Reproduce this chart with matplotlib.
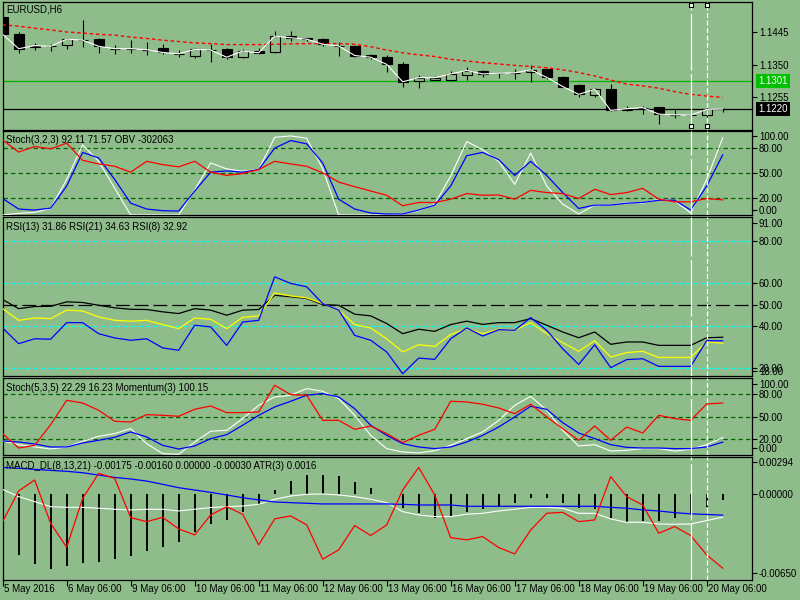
import numpy as np
import matplotlib.pyplot as plt
from matplotlib.patches import Rectangle
from matplotlib.transforms import blended_transform_factory

# EURUSD H6 candles (46 bars)
opens = [1.1489, 1.1440, 1.1402, 1.1404, 1.1407, 1.1422, 1.1425, 1.1397, 1.1397, 1.1394,
         1.1398, 1.1382, 1.1377, 1.1393, 1.1395, 1.1374, 1.1390, 1.1388, 1.1433, 1.1427,
         1.1424, 1.1405, 1.1405, 1.1378, 1.1373, 1.1351, 1.1302, 1.1306, 1.1305, 1.1321,
         1.1332, 1.1325, 1.1326, 1.1329, 1.1337, 1.1314, 1.1290, 1.1262, 1.1278, 1.1216,
         1.1224, 1.1225, 1.1203, 1.1202, 1.1203, 1.1221]
highs = [1.1493, 1.1445, 1.1415, 1.1412, 1.1429, 1.1481, 1.1429, 1.1408, 1.1423, 1.1417,
         1.1411, 1.1393, 1.1400, 1.1410, 1.1400, 1.1395, 1.1400, 1.1448, 1.1448, 1.1429,
         1.1427, 1.1416, 1.1408, 1.1381, 1.1379, 1.1359, 1.1320, 1.1317, 1.1333, 1.1342,
         1.1334, 1.1327, 1.1336, 1.1348, 1.1339, 1.1317, 1.1293, 1.1281, 1.1293, 1.1229,
         1.1229, 1.1227, 1.1218, 1.1207, 1.1227, 1.1222]
lows = [1.1437, 1.1385, 1.1393, 1.1391, 1.1397, 1.1401, 1.1385, 1.1381, 1.1383, 1.1378,
        1.1381, 1.1372, 1.1369, 1.1359, 1.1366, 1.1370, 1.1381, 1.1383, 1.1421, 1.1421,
        1.1404, 1.1377, 1.1374, 1.1368, 1.1330, 1.1284, 1.1283, 1.1305, 1.1302, 1.1305,
        1.1315, 1.1312, 1.1308, 1.1300, 1.1309, 1.1284, 1.1254, 1.1256, 1.1214, 1.1214,
        1.1204, 1.1177, 1.1193, 1.1196, 1.1198, 1.1212]
closes = [1.1439, 1.1397, 1.1406, 1.1404, 1.1425, 1.1422, 1.1404, 1.1397, 1.1397, 1.1394,
          1.1386, 1.1382, 1.1395, 1.1393, 1.1372, 1.1390, 1.1385, 1.1434, 1.1429, 1.1425,
          1.1410, 1.1405, 1.1377, 1.1372, 1.1351, 1.1300, 1.1312, 1.1312, 1.1323, 1.1333,
          1.1323, 1.1325, 1.1326, 1.1335, 1.1313, 1.1286, 1.1263, 1.1278, 1.1216, 1.1221,
          1.1224, 1.1205, 1.1203, 1.1202, 1.1219, 1.1220]
ma_slow = [1.1467, 1.1463, 1.1457, 1.1452, 1.1446, 1.1443, 1.1439, 1.1437, 1.1431, 1.1427,
           1.1422, 1.1418, 1.1414, 1.1412, 1.1409, 1.1409, 1.1409, 1.1410, 1.1411, 1.1412,
           1.1412, 1.1412, 1.1410, 1.1403, 1.1393, 1.1385, 1.1379, 1.1374, 1.1366, 1.1361,
           1.1356, 1.1352, 1.1348, 1.1345, 1.1341, 1.1335, 1.1327, 1.1317, 1.1305, 1.1293,
           1.1288, 1.1281, 1.1271, 1.1263, 1.1258, 1.1254]

# Stoch(3,2,3) + OBV
stoch1_main = [0, 2.0, 3.1, 7.8, 42.4, 83.5, 64.0, 32.0, 0, 0,
               0, 0, 30.0, 62.0, 54.9, 52.2, 54.1, 92.5, 94.1, 91.4,
               55.0, 0, 0, 0, 0, 1.2, 5.1, 12.9, 46.3, 87.5,
               77.6, 63.9, 36.5, 73.7, 34.5, 12.9, 1.2, 11.8, 11.8, 14.9,
               14.1, 18.8, 16.9, 2.4, 42.4, 92.11]
stoch1_signal = [19.6, 7.1, 5.9, 8.2, 34.5, 74.5, 67.8, 42.4, 14.1, 7.1,
                 5.1, 4.7, 28.6, 51.0, 52.5, 51.0, 54.1, 79.6, 88.6, 84.7,
                 62.0, 18.8, 7.1, 2.4, 1.2, 1.2, 5.9, 11.8, 34.5, 70.6,
                 74.5, 65.9, 47.1, 63.9, 47.1, 26.7, 7.8, 11.8, 11.8, 14.1,
                 14.9, 17.6, 17.6, 5.9, 34.5, 71.57]
obv = [89.4, 74.9, 81.6, 78.8, 85.5, 65.1, 60.8, 58.0, 51.0, 63.9,
       60.0, 57.3, 63.9, 51.0, 47.1, 49.4, 54.1, 63.9, 60.8, 58.0,
       50.2, 39.2, 33.7, 28.6, 23.5, 11.0, 14.9, 14.9, 18.8, 25.5,
       23.5, 23.9, 18.8, 29.4, 26.7, 25.5, 19.6, 30.6, 24.3, 26.7,
       31.8, 18.8, 15.7, 15.7, 19.6, 18.0]

# RSI lines
rsi21 = [52.4, 48.1, 49.1, 49.2, 51.3, 51.0, 49.7, 48.5, 47.8, 47.7,
         46.6, 45.8, 48.1, 47.4, 45.0, 47.4, 47.7, 54.4, 53.7, 52.9,
         50.0, 49.7, 45.5, 44.7, 41.1, 36.3, 38.4, 37.4, 40.6, 42.2,
         40.7, 41.5, 41.5, 43.4, 40.3, 37.1, 34.4, 37.1, 31.3, 32.4,
         32.4, 30.8, 30.8, 30.8, 34.4, 34.63]
rsi13 = [48.1, 42.6, 43.7, 43.4, 47.4, 47.0, 44.2, 42.6, 42.2, 42.6,
         40.6, 38.7, 43.7, 43.1, 38.7, 44.0, 44.7, 55.5, 54.1, 53.2,
         50.5, 47.4, 40.6, 39.0, 33.9, 27.7, 31.1, 30.3, 35.9, 38.7,
         36.3, 38.4, 37.9, 41.5, 36.3, 32.1, 28.0, 33.0, 25.3, 27.4,
         28.0, 25.1, 25.1, 25.1, 32.4, 31.86]
rsi8 = [39.0, 31.6, 33.9, 33.7, 41.5, 41.5, 36.3, 34.3, 33.2, 33.9,
        29.6, 28.5, 40.3, 39.5, 30.8, 41.8, 42.6, 63.1, 60.0, 58.4,
        50.5, 47.4, 35.5, 33.2, 27.7, 17.4, 24.8, 24.2, 33.9, 39.0,
        35.2, 38.2, 37.9, 43.9, 37.9, 29.2, 21.8, 31.1, 20.3, 24.1,
        24.5, 20.9, 20.9, 20.9, 33.0, 32.92]

# Stoch(5,3,5) + Momentum(3)
stoch2_main = [17.8, 12.9, 9.8, 7.1, 9.8, 17.3, 24.0, 27.6, 34.2, 14.2,
               0.9, 0, 16.4, 30.7, 32.0, 47.6, 65.3, 76.4, 78.7, 87.6,
               84.0, 74.2, 52.0, 25.3, 7.6, 3.1, 1.8, 4.9, 12.0, 20.9,
               29.8, 45.3, 65.3, 77.3, 58.7, 32.0, 11.1, 12.9, 4.4, 5.3,
               7.6, 7.6, 4.4, 6.7, 12.9, 22.29]
stoch2_signal = [17.8, 16.4, 13.8, 9.8, 9.8, 15.1, 18.7, 22.7, 29.8, 23.1,
                 12.0, 7.1, 11.1, 20.9, 26.2, 38.7, 52.0, 63.1, 70.7, 78.7,
                 80.9, 76.4, 60.9, 38.7, 25.3, 14.2, 9.8, 7.6, 9.8, 16.4,
                 25.3, 36.4, 49.8, 64.0, 60.0, 42.2, 28.4, 20.9, 12.9, 9.3,
                 8.4, 8.4, 7.6, 7.6, 9.8, 16.23]
momentum = [27.6, 8.4, 12.0, 39.6, 72.0, 68.4, 58.7, 44.0, 43.1, 52.9,
            52.0, 50.7, 60.0, 64.4, 55.6, 55.6, 56.4, 92.0, 79.6, 78.7,
            45.3, 45.3, 33.3, 37.8, 27.6, 15.6, 25.3, 33.3, 70.7, 69.8,
            66.7, 61.8, 54.2, 66.7, 49.8, 34.2, 18.7, 37.8, 18.7, 36.4,
            28.4, 52.0, 47.6, 45.3, 67.1, 68.4]

# MACD_DL(8,13,21) + ATR(3)
macd_main = [0.00038, -0.00018, -0.00056, -0.00095, -0.00100, -0.00100, -0.00107, -0.00115, -0.00120, -0.00115,
             -0.00115, -0.00128, -0.00115, -0.00102, -0.00095, -0.00090, -0.00077, -0.00038, -0.00013, 0.0,
             0.00003, -0.00005, -0.00018, -0.00038, -0.00064, -0.00133, -0.00159, -0.00171, -0.00171, -0.00153,
             -0.00146, -0.00128, -0.00115, -0.00100, -0.00100, -0.00107, -0.00146, -0.00146, -0.00189, -0.00215,
             -0.00215, -0.00228, -0.00230, -0.00228, -0.00202, -0.00175]
macd_signal = [0.00207, 0.00200, 0.00192, 0.00184, 0.00177, 0.00166, 0.00148, 0.00130, 0.00118, 0.00102,
               0.00077, 0.00051, 0.00033, 0.00015, -0.00005, -0.00026, -0.00043, -0.00059, -0.00064, -0.00069,
               -0.00074, -0.00074, -0.00074, -0.00074, -0.00074, -0.00077, -0.00082, -0.00082, -0.00082, -0.00092,
               -0.00092, -0.00092, -0.00092, -0.00092, -0.00092, -0.00092, -0.00092, -0.00092, -0.00100, -0.00107,
               -0.00120, -0.00128, -0.00141, -0.00150, -0.00155, -0.00160]
macd_hist = [np.nan, -0.00466, -0.00537, -0.00576, -0.00555, -0.00530, -0.00517, -0.00499, -0.00478, -0.00432,
             -0.00402, -0.00363, -0.00292, -0.00225, -0.00194, -0.00133, -0.00082, 0.00033, 0.00102, 0.00148,
             0.00148, 0.00141, 0.00097, 0.00051, 0.00002, -0.00107, -0.00146, -0.00184, -0.00171, -0.00133,
             -0.00115, -0.00095, -0.00064, -0.00031, -0.00031, -0.00064, -0.00107, -0.00113, -0.00184, -0.00210,
             -0.00202, -0.00205, -0.00184, -0.00159, -0.00095, -0.00043]
atr = [-0.00210, 0.00026, 0.00110, -0.00223, -0.00407, -0.00031, 0.00161, 0.00123, -0.00179, -0.00210,
       -0.00177, -0.00266, -0.00312, -0.00159, -0.00095, -0.00153, -0.00389, -0.00189, -0.00166, -0.00235,
       -0.00499, -0.00427, -0.00240, -0.00317, -0.00235, 0.00033, 0.00207, -0.00005, -0.00333, -0.00350,
       -0.00325, -0.00409, -0.00458, -0.00274, -0.00146, -0.00138, -0.00210, -0.00197, 0.00136, -0.00018,
       -0.00082, -0.00299, -0.00248, -0.00317, -0.00466, -0.00568]

date_labels = ['5 May 2016', '6 May 06:00', '9 May 06:00', '10 May 06:00', '11 May 06:00', '12 May 06:00',
               '13 May 06:00', '16 May 06:00', '17 May 06:00', '18 May 06:00', '19 May 06:00', '20 May 06:00']

bg = '#8fbc8b'
plt.rcParams['font.family'] = ['Liberation Sans', 'DejaVu Sans']
plt.rcParams['font.size'] = 7

x = np.arange(len(closes))
fig = plt.figure(figsize=(8, 6), dpi=100, facecolor=bg)


def add_panel(top, bottom):
    # top / bottom in pixels from the top of the picture
    ax = fig.add_axes([2.5 / 800, 1 - bottom / 600, 749.5 / 800, (bottom - top) / 600])
    ax.set_facecolor(bg)
    ax.set_xlim(-0.01, 46.83)
    for s in ax.spines.values():
        s.set_color('black')
        s.set_linewidth(0.9)
    ax.tick_params(axis='x', bottom=False, labelbottom=False)
    ax.yaxis.tick_right()
    ax.tick_params(axis='y', direction='out', length=3.5, width=0.8, pad=1.5, labelsize=7, colors='black')
    return ax


def title(ax, s, dy):
    ax.annotate(s, xy=(0, 1), xycoords='axes fraction', xytext=(4, -dy), textcoords='offset pixels',
                ha='left', va='center', fontsize=7, color='black')


def mark_lines(ax):
    ax.axvline(43, color='white', lw=0.9, ls=(0, (45, 3)), zorder=5)
    ax.axvline(44, color='white', lw=0.9, ls=(0, (4, 2)), zorder=5)


def dashed_levels(ax, levels, color, pattern):
    for lv in levels:
        ax.axhline(lv, color=color, lw=0.9, ls=pattern, zorder=1)


# --- price panel ---
ax1 = add_panel(2, 129.5)
ax1.set_ylim(1.11599, 1.15340)
ax1.axhline(1.1301, color='#00b400', lw=0.9, zorder=1)
ax1.axhline(1.1220, color='black', lw=0.9, zorder=1)
for i in range(len(closes)):
    ax1.vlines(i, lows[i], highs[i], color='black', lw=0.8, zorder=2)
    lo = min(opens[i], closes[i])
    face = bg if closes[i] >= opens[i] else 'black'
    ax1.add_patch(Rectangle((i - 0.31, lo), 0.62, abs(closes[i] - opens[i]),
                            facecolor=face, edgecolor='black', lw=0.8, zorder=3))
ax1.plot(x, ma_slow, color='red', lw=1.0, ls=(0, (2.5, 2)), zorder=4)
ax1.plot(x, closes, color='white', lw=0.8, zorder=4)
mark_lines(ax1)
xt = ax1.get_xaxis_transform()
ax1.plot([43, 44, 43, 44], [0.976, 0.976, 0.027, 0.027], transform=xt, ls='none', marker='s', ms=3.5,
         mfc='white', mec='black', mew=0.8, zorder=6, clip_on=False)
ax1.set_yticks([1.1445, 1.1350, 1.1255])
ax1.set_yticklabels(['1.1445', '1.1350', '1.1255'])
trans = blended_transform_factory(ax1.transAxes, ax1.transData)
ax1.text(1.0085, 1.1301, '1.1301', transform=trans, va='center', ha='left', color='white', fontsize=7,
         bbox=dict(boxstyle='square,pad=0.2', fc='#00c000', ec='none'))
ax1.text(1.0085, 1.1220, '1.1220', transform=trans, va='center', ha='left', color='white', fontsize=7,
         bbox=dict(boxstyle='square,pad=0.2', fc='black', ec='none'))
title(ax1, 'EURUSD,H6', 8)

# --- Stoch(3,2,3) + OBV ---
ax2 = add_panel(131, 215)
ax2.set_ylim(0, 100)
dashed_levels(ax2, [80, 50, 20], '#006400', (0, (3.5, 2.5)))
ax2.plot(x, stoch1_main, color='white', lw=0.8, zorder=3)
ax2.plot(x, stoch1_signal, color='blue', lw=0.9, zorder=3)
ax2.plot(x, obv, color='red', lw=0.9, zorder=3)
mark_lines(ax2)
ax2.set_yticks([94, 80, 50, 20, 6])
ax2.set_yticklabels(['100.00', '80.00', '50.00', '20.00', '0.00'])
title(ax2, 'Stoch(3,2,3) 92.11 71.57 OBV -302063', 9)

# --- RSI ---
ax3 = add_panel(217, 376)
ax3.set_ylim(16.36, 91.3)
dashed_levels(ax3, [80, 60, 40, 20], '#00ffff', (0, (3.5, 2.5)))
ax3.axhline(50, color='black', lw=0.9, ls=(0, (11, 4)), zorder=1)
ax3.plot(x, rsi21, color='black', lw=0.9, zorder=3)
ax3.plot(x, rsi13, color='yellow', lw=0.9, zorder=3)
ax3.plot(x, rsi8, color='blue', lw=0.9, zorder=3)
mark_lines(ax3)
ax3.set_yticks([88.5, 80, 60, 50, 40, 20, 18.9])
ax3.set_yticklabels(['91.00', '80.00', '60.00', '50.00', '40.00', '20.00', '18.00'])
title(ax3, 'RSI(13) 31.86 RSI(21) 34.63 RSI(8) 32.92', 10)

# --- Stoch(5,3,5) + Momentum ---
ax4 = add_panel(378, 455)
ax4.set_ylim(-0.9, 101.7)
dashed_levels(ax4, [80, 50, 20], '#006400', (0, (3.5, 2.5)))
ax4.plot(x, stoch2_main, color='white', lw=0.8, zorder=3)
ax4.plot(x, stoch2_signal, color='blue', lw=0.9, zorder=3)
ax4.plot(x, momentum, color='red', lw=0.9, zorder=3)
mark_lines(ax4)
ax4.set_yticks([94, 80, 50, 20, 8])
ax4.set_yticklabels(['100.00', '80.00', '50.00', '20.00', '0.00'])
title(ax4, 'Stoch(5,3,5) 22.29 16.23 Momentum(3) 100.15', 10)

# --- MACD + ATR ---
ax5 = add_panel(457, 579.5)
ax5.set_ylim(-0.00655, 0.00287)
ax5.vlines(x, 0, macd_hist, color='black', lw=1.4, zorder=2)
ax5.plot(x, macd_main, color='white', lw=0.8, zorder=3)
ax5.plot(x, macd_signal, color='blue', lw=0.9, zorder=3)
ax5.plot(x, atr, color='red', lw=0.9, zorder=3)
mark_lines(ax5)
ax5.set_yticks([0.0025, 0.0, -0.00606])
ax5.set_yticklabels(['0.00294', '0.00000', '-0.00650'])
title(ax5, 'MACD_DL(8,13,21) -0.00175 -0.00160 0.00000 -0.00030 ATR(3) 0.0016', 9)

# time axis under the last panel
ax5.set_xticks(range(0, 46, 4))
ax5.tick_params(axis='x', bottom=True, direction='out', length=4.5, width=0.8, labelbottom=False)
for k, lab in enumerate(date_labels):
    ax5.annotate(lab, xy=(4 * k, 0), xycoords=('data', 'axes fraction'), xytext=(1, -10),
                 textcoords='offset pixels', ha='left', va='center', fontsize=7, annotation_clip=False)

fig.savefig('out.png', dpi=100, facecolor=bg)
